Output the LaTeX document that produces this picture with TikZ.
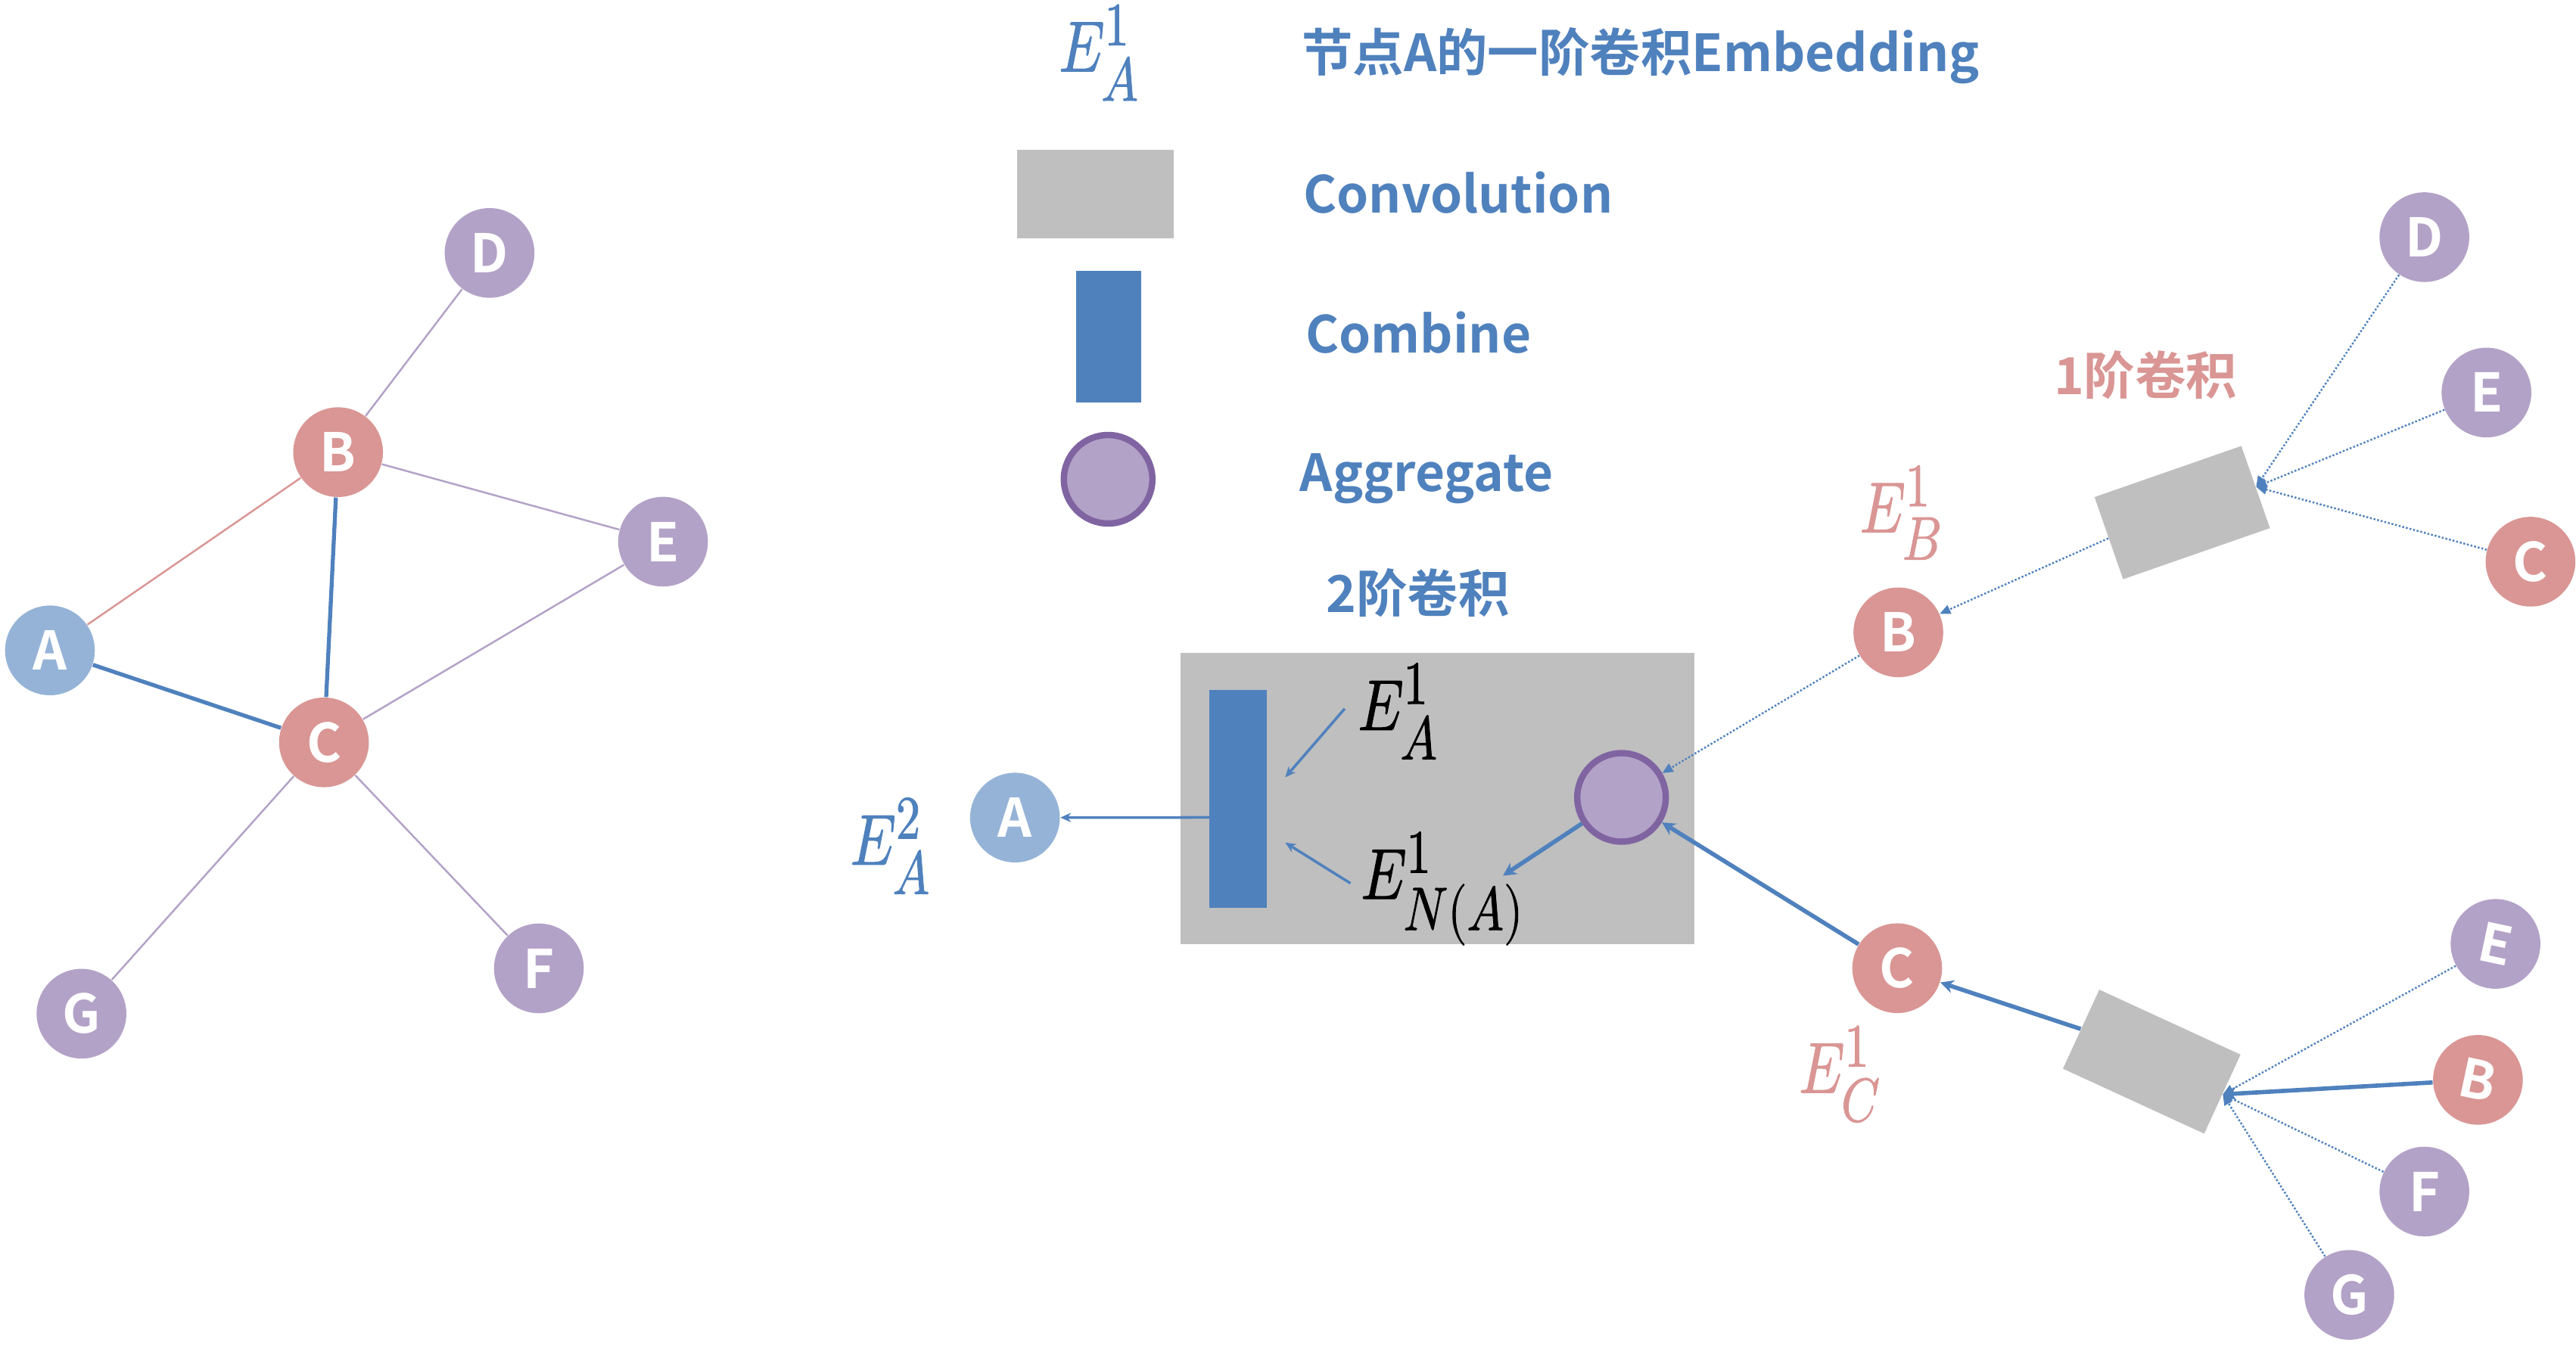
\documentclass[tikz,border=0pt]{standalone}
\usepackage{unicode-math}
\setmathfont{Latin Modern Math}[FakeBold=1.3]
\usepackage{graphicx}
\usetikzlibrary{arrows.meta}
\newfontfamily\yh{Noto Sans CJK SC Bold}
\definecolor{blueD}{HTML}{4F81BD}
\definecolor{blueL}{HTML}{95B3D7}
\definecolor{redN}{HTML}{D99694}
\definecolor{purN}{HTML}{B3A2C7}
\definecolor{purB}{HTML}{8064A2}
\definecolor{grayC}{HTML}{BFBFBF}
\newcommand\sbx[1]{\scalebox{1.22}{$\scriptstyle #1$}}
\newcommand\mlab[2]{\scalebox{0.8}[1]{$E_{\sbx{#1}}^{\sbx{#2}}$}}
\begin{document}
\begin{tikzpicture}[x=0.021709cm,y=-0.021709cm,
  gnode/.style={circle,minimum size=1.186cm,inner sep=0pt,text=white,font=\yh\fontsize{20}{20}\selectfont},
  bnode/.style={gnode,fill=blueL},
  rnode/.style={gnode,fill=redN},
  pnode/.style={gnode,fill=purN},
  aggnode/.style={circle,minimum size=1.17cm,inner sep=0pt,fill=purN,draw=purB,line width=2.4pt},
  convbox/.style={fill=grayC,inner sep=0pt},
  legtext/.style={font=\yh\fontsize{19.2}{23}\selectfont,inner sep=0pt},
  mathlab/.style={font=\fontsize{27}{30}\selectfont,inner sep=0pt},
  thinedge/.style={line width=0.7pt},
  thickedge/.style={line width=1.5pt,draw=blueD},
  dotarrow/.style={draw=blueD,line width=0.7pt,dash pattern=on 0.7pt off 0.7pt,-{Triangle[length=4pt,width=3.5pt]}},
  thickarrow/.style={draw=blueD,line width=1.6pt,-{Stealth[length=5pt,width=5pt]}},
  midarrow/.style={draw=blueD,line width=1pt,-{Stealth[length=4pt,width=3.5pt]}}
]
\useasboundingbox (0,0) rectangle (1568,826.4);

% ---------- left graph ----------
\node[pnode] (lD) at (298,154) {D};
\node[rnode] (lB) at (205.8,275.3) {B};
\node[pnode] (lE) at (403.6,329.8) {E};
\node[bnode] (lA) at (30.4,396) {A};
\node[rnode] (lC) at (197.2,452) {C};
\node[pnode] (lG) at (49.6,617.2) {G};
\node[pnode] (lF) at (328,589.6) {F};
\draw[thinedge,redN] (lA) -- (lB);
\draw[thinedge,purN] (lB) -- (lD);
\draw[thinedge,purN] (lB) -- (lE);
\draw[thinedge,purN] (lC) -- (lE);
\draw[thinedge,purN] (lC) -- (lG);
\draw[thinedge,purN] (lC) -- (lF);
\draw[thickedge] (lA) -- (lC);
\draw[thickedge] (lB) -- (lC);

% ---------- legend ----------
\node[mathlab,text=blueD] (leq) at (669,32) {\mlab{A}{1}};
\node[legtext,text=blueD,anchor=base west] (lt1) at (792,43.6) {节点A的一阶卷积Embedding};
\node[convbox,minimum width=2.073cm,minimum height=1.164cm] (lconv) at (666.75,118.2) {};
\node[legtext,text=blueD,anchor=base west] (lt2) at (793,129.7) {Convolution};
\node[fill=blueD,inner sep=0pt,minimum width=0.862cm,minimum height=1.741cm] (lcomb) at (674.85,204.8) {};
\node[legtext,text=blueD,anchor=base west] (lt3) at (794.4,214.7) {Combine};
\node[aggnode] (lagg) at (674.5,291.8) {};
\node[legtext,text=blueD,anchor=base west] (lt4) at (791,299.3) {Aggregate};

% ---------- middle ----------
\node[legtext,text=blueD,anchor=base] (t2) at (863,373) {2阶卷积};
\node[convbox,minimum width=6.795cm,minimum height=3.856cm] (big) at (875,486.2) {};
\node[fill=blueD,inner sep=0pt,minimum width=0.753cm,minimum height=2.889cm] (bar) at (753.65,486.45) {};
\node[bnode] (A2) at (617.8,497.8) {A};
\node[mathlab,text=blueD] (ea2) at (542,515) {\mlab{A}{2}};
\coordinate (barout) at (736.3,497.7);
\draw[midarrow] (barout) -- (A2);
\node[mathlab,text=black] (ea1) at (851,433) {\mlab{A}{1}};
\node[mathlab,text=black] (ena) at (878,541) {\mlab{N(A)}{1}};
\coordinate (a1s) at (818.5,431.5);
\coordinate (a1e) at (782.3,473.3);
\coordinate (a2s) at (822,537.8);
\coordinate (a2e) at (782.3,513);
\draw[midarrow] (a1s) -- (a1e);
\draw[midarrow] (a2s) -- (a2e);
\node[aggnode] (agg) at (987,485.5) {};
\coordinate (aggout) at (914.8,533.2);
\draw[thickarrow] (agg) -- (aggout);

% ---------- right ----------
\node[rnode] (rB) at (1155.5,385) {B};
\node[rnode] (rC) at (1154.8,589.5) {C};
\node[convbox,minimum width=2.055cm,minimum height=1.15cm,rotate=19.2] (cu) at (1328.3,312.1) {};
\node[convbox,minimum width=2.055cm,minimum height=1.15cm,rotate=-24.7] (cl) at (1309.75,646.4) {};
\node[pnode] (rD) at (1475.7,144.4) {D};
\node[pnode] (rE) at (1513.5,239) {E};
\node[rnode] (rC2) at (1540.3,342) {C};
\node[pnode,rotate=-12] (rE2) at (1519,574.7) {E};
\node[rnode,rotate=-12] (rB2) at (1508.3,657.5) {B};
\node[pnode] (rF) at (1475.7,725.5) {F};
\node[pnode] (rG) at (1430,788.4) {G};
\node[legtext,text=redN,anchor=base] (t1) at (1306,240) {1阶卷积};
\node[mathlab,text=redN] (eb1) at (1157,312) {\mlab{B}{1}};
\node[mathlab,text=redN] (ec1) at (1120,654) {\mlab{C}{1}};

\draw[dotarrow] (rD) -- (cu.east);
\draw[dotarrow] (rE) -- (cu.east);
\draw[dotarrow] (rC2) -- (cu.east);
\draw[dotarrow] (cu.west) -- (rB);
\draw[dotarrow] (rB) -- (agg);
\draw[thickarrow] (rC) -- (agg);
\draw[thickarrow] (cl.west) -- (rC);
\draw[dotarrow] (rE2) -- (cl.east);
\draw[dotarrow] (rF) -- (cl.east);
\draw[dotarrow] (rG) -- (cl.east);
\draw[thickarrow] (rB2) -- (cl.east);
\end{tikzpicture}
\end{document}
